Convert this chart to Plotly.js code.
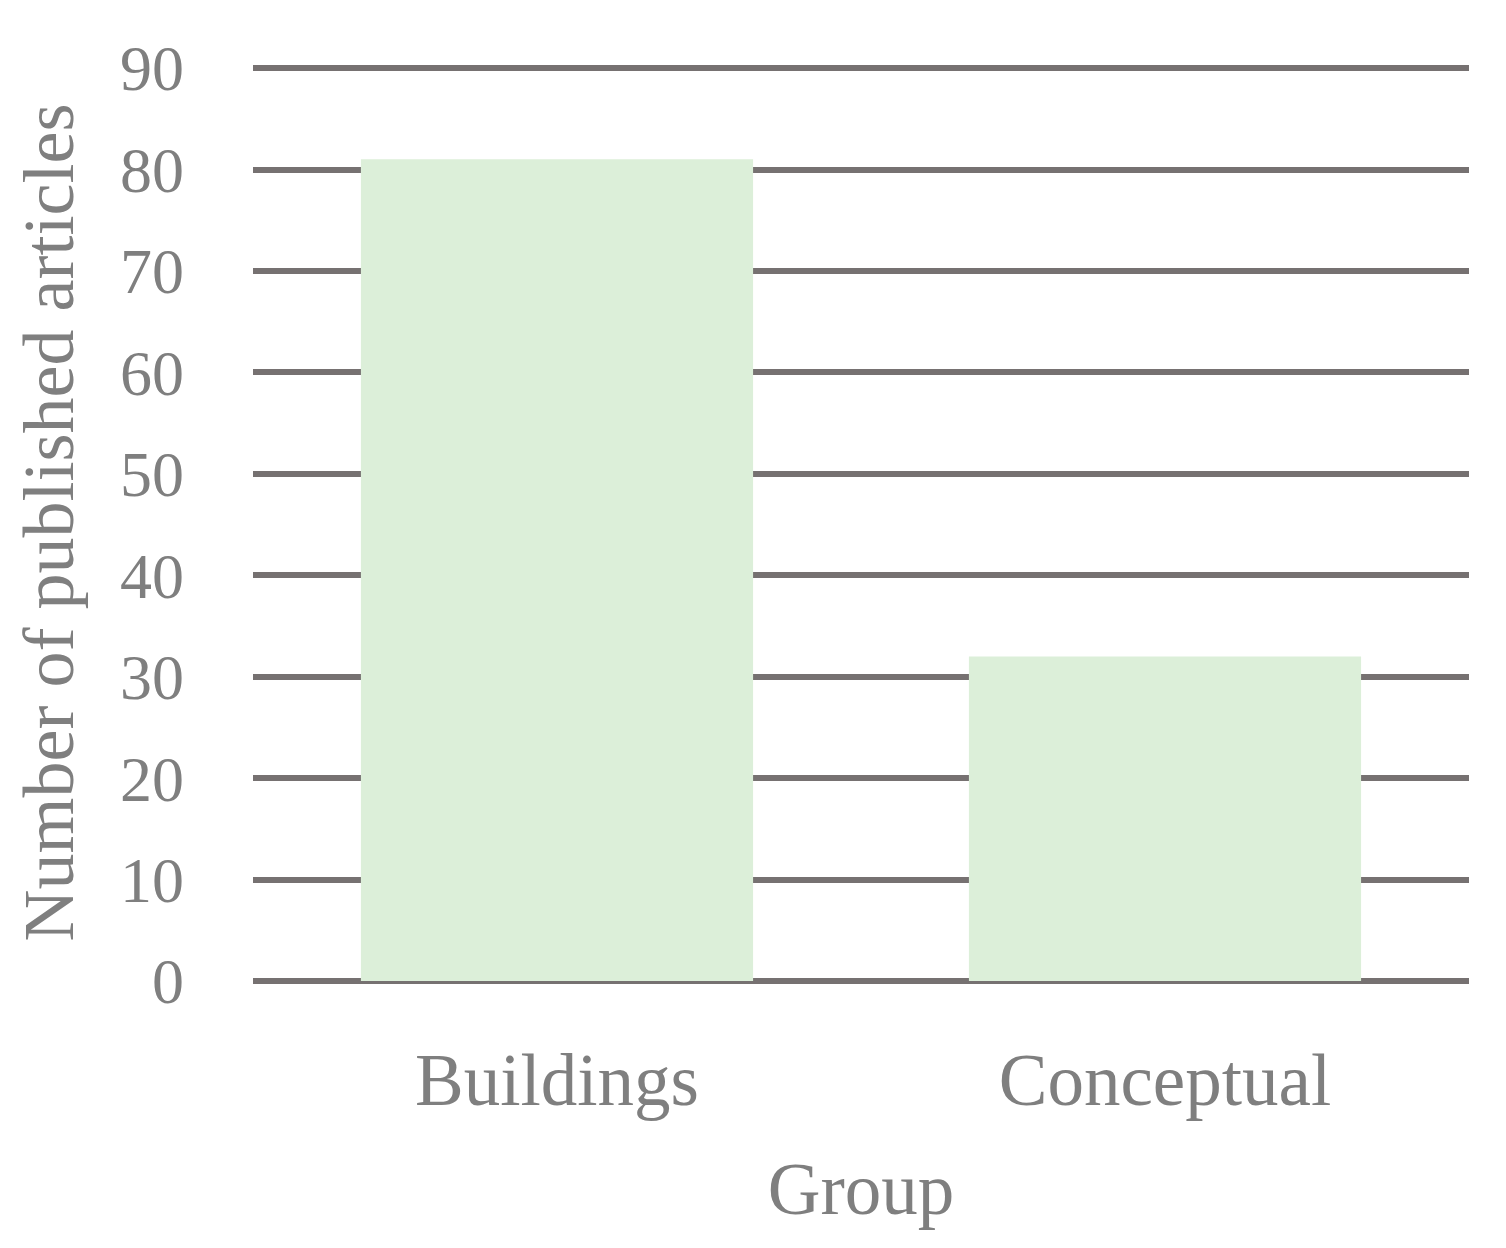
<!DOCTYPE html>
<html><head><meta charset="utf-8">
<script src="https://cdn.plot.ly/plotly-3.0.1.min.js"></script>
<style>html,body{margin:0;padding:0;background:#fff}#chart{width:1506px;height:1248px}</style>
</head><body><div id="chart"></div>
<script>
const categories = ["Buildings", "Conceptual"];
const articleCounts = [81, 32];
const yTickValues = [0, 10, 20, 30, 40, 50, 60, 70, 80, 90];

const textColor = "#7f7f7f";
const font = "Palatino Linotype, Palatino, 'Liberation Serif', 'DejaVu Serif', serif";

Plotly.newPlot("chart", [{
  type: "bar",
  x: categories,
  y: articleCounts,
  marker: {color: "#dcefd9"},
  hoverinfo: "none"
}], {
  width: 1506, height: 1248,
  margin: {l: 253, r: 37, t: 64, b: 267},
  paper_bgcolor: "#fff", plot_bgcolor: "#fff",
  bargap: 0.355,
  showlegend: false,
  font: {family: font, color: textColor, size: 64},
  xaxis: {
    showgrid: false, showline: false, zeroline: false,
    ticks: "", ticklabelstandoff: 50,
    tickfont: {size: 73, color: textColor, family: font},
    title: {text: "Group", font: {size: 73, color: textColor, family: font}, standoff: 42}
  },
  yaxis: {
    range: [0, 90.4], tickvals: yTickValues, ticktext: yTickValues.map(String),
    showgrid: true, gridcolor: "#767171", gridwidth: 6,
    zeroline: true, zerolinecolor: "#767171", zerolinewidth: 6,
    showline: false, ticks: "", ticklabelstandoff: 68,
    tickfont: {size: 64, color: textColor, family: font},
    title: {text: "Number of published articles", font: {size: 72, color: textColor, family: font}, standoff: 22}
  }
}, {displayModeBar: false, staticPlot: true});
</script></body></html>
